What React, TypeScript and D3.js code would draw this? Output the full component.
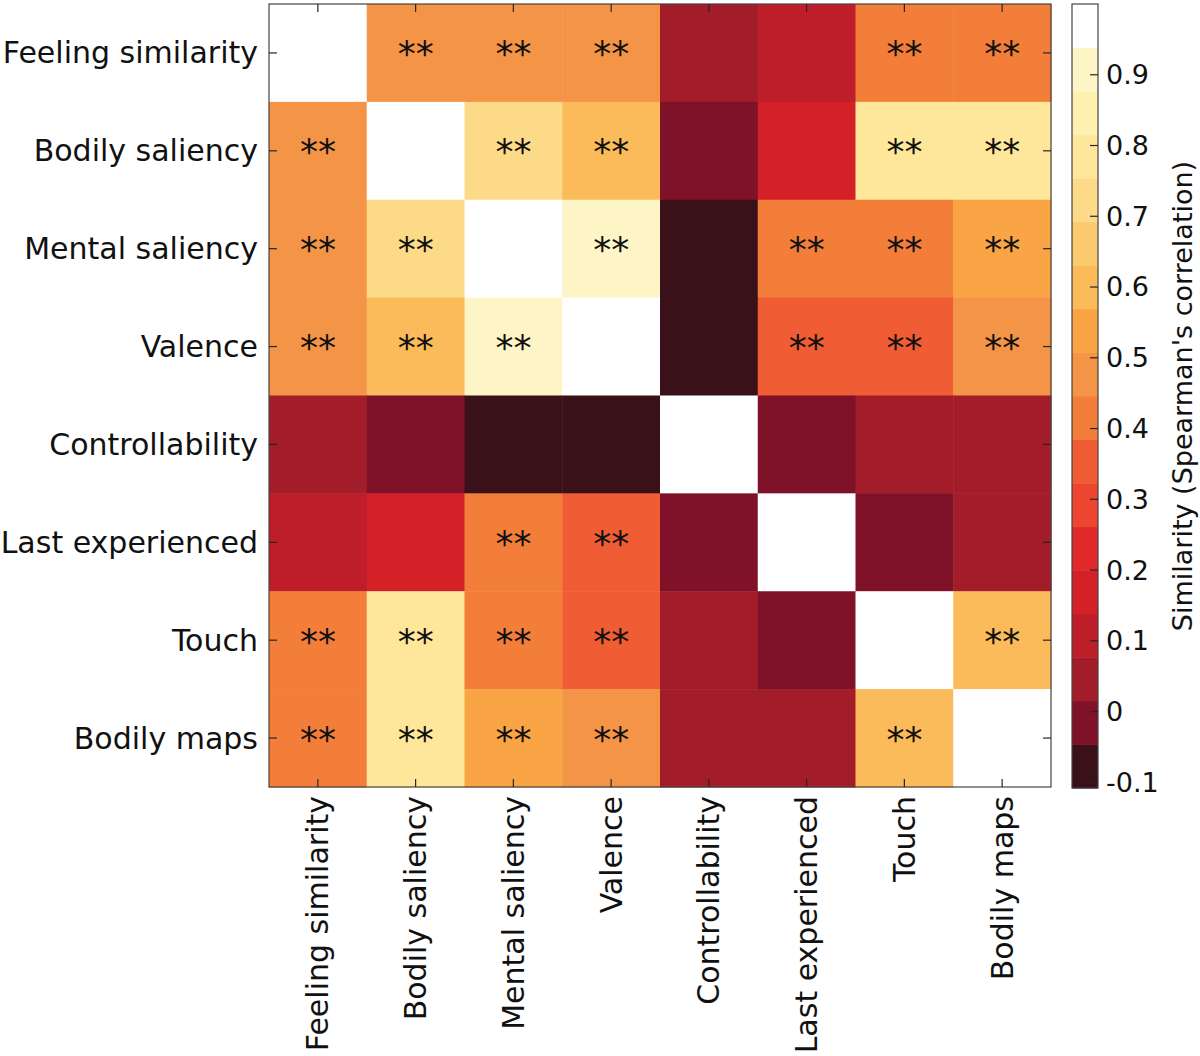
import React from "react";
import * as d3 from "d3";

const categories = [
  "Feeling similarity",
  "Bodily saliency",
  "Mental saliency",
  "Valence",
  "Controllability",
  "Last experienced",
  "Touch",
  "Bodily maps",
];

const rowFeeling = [1, 0.48, 0.48, 0.48, 0.05, 0.11, 0.42, 0.42];
const rowBodily = [0.48, 1, 0.72, 0.6, -0.02, 0.17, 0.79, 0.79];
const rowMental = [0.48, 0.72, 1, 0.91, -0.09, 0.42, 0.42, 0.54];
const rowValence = [0.48, 0.6, 0.91, 1, -0.09, 0.35, 0.35, 0.48];
const rowControl = [0.05, -0.02, -0.09, -0.09, 1, -0.02, 0.05, 0.05];
const rowLast = [0.11, 0.17, 0.42, 0.35, -0.02, 1, -0.02, 0.05];
const rowTouch = [0.42, 0.79, 0.42, 0.35, 0.05, -0.02, 1, 0.6];
const rowMaps = [0.42, 0.79, 0.54, 0.48, 0.05, 0.05, 0.6, 1];
const values = [rowFeeling, rowBodily, rowMental, rowValence, rowControl, rowLast, rowTouch, rowMaps];

const sigFeeling = [0, 1, 1, 1, 0, 0, 1, 1];
const sigBodily = [1, 0, 1, 1, 0, 0, 1, 1];
const sigMental = [1, 1, 0, 1, 0, 1, 1, 1];
const sigValence = [1, 1, 1, 0, 0, 1, 1, 1];
const sigControl = [0, 0, 0, 0, 0, 0, 0, 0];
const sigLast = [0, 0, 1, 1, 0, 0, 0, 0];
const sigTouch = [1, 1, 1, 1, 0, 0, 0, 1];
const sigMaps = [1, 1, 1, 1, 0, 0, 1, 0];
const significance = [sigFeeling, sigBodily, sigMental, sigValence, sigControl, sigLast, sigTouch, sigMaps];

const colorDomain = [-0.108, 1];
const palette = [
  "#3A1019", "#7F1128", "#A21C2A", "#BE1E2A", "#D42027", "#E02A2A",
  "#EC4630", "#F05C34", "#F27E3A", "#F49447", "#F9A545", "#FBBB5A",
  "#FCCA6E", "#FDDA88", "#FEE79A", "#FEF0AE", "#FEF5C6", "#FFFFFF",
];
const colorTicks = [-0.1, 0, 0.1, 0.2, 0.3, 0.4, 0.5, 0.6, 0.7, 0.8, 0.9];
const colorbarTitle = "Similarity (Spearman's correlation)";

const FONT = "DejaVu Sans, Verdana, sans-serif";

export default function App() {
  const left = 269, right = 1051, top = 4, bottom = 787;
  const x = d3.scaleBand<string>().domain(categories).range([left, right]);
  const y = d3.scaleBand<string>().domain(categories).range([top, bottom]);
  const color = d3.scaleQuantize<string>().domain(colorDomain as [number, number]).range(palette);

  const cbX0 = 1072, cbX1 = 1098, cbTop = 4, cbBottom = 788;
  const cbScale = d3.scaleLinear().domain(colorDomain).range([cbBottom, cbTop]);
  const thresholds = [colorDomain[0], ...color.thresholds(), colorDomain[1]];

  const tickLen = 8;
  const tickColor = "#262626";

  return (
    <svg width={1200} height={1056} style={{ position: "absolute", left: 0, top: 0, background: "#fff" }} fontFamily={FONT}>
      {values.map((row, i) =>
        row.map((v, j) => (
          <rect
            key={`c${i}-${j}`}
            x={x(categories[j])}
            y={y(categories[i])}
            width={x.bandwidth() + 0.5}
            height={y.bandwidth() + 0.5}
            fill={color(v)}
          />
        ))
      )}
      {significance.map((row, i) =>
        row.map((s, j) =>
          s ? (
            <text
              key={`s${i}-${j}`}
              x={(x(categories[j]) as number) + x.bandwidth() / 2}
              y={(y(categories[i]) as number) + y.bandwidth() / 2 + 13.5}
              fontSize={36}
              textAnchor="middle"
              fill="#111"
            >
              **
            </text>
          ) : null
        )
      )}
      <rect x={left} y={top} width={right - left} height={bottom - top} fill="none" stroke="#444" strokeWidth={1.2} />
      {categories.map((c) => {
        const cx = (x(c) as number) + x.bandwidth() / 2;
        const cy = (y(c) as number) + y.bandwidth() / 2;
        return (
          <g key={`t-${c}`} stroke={tickColor} strokeWidth={1.2}>
            <line x1={cx} x2={cx} y1={top} y2={top + tickLen} />
            <line x1={cx} x2={cx} y1={bottom} y2={bottom - tickLen} />
            <line x1={left} x2={left + tickLen} y1={cy} y2={cy} />
            <line x1={right} x2={right - tickLen} y1={cy} y2={cy} />
          </g>
        );
      })}
      {categories.map((c) => (
        <text
          key={`yl-${c}`}
          x={258}
          y={(y(c) as number) + y.bandwidth() / 2}
          dy="0.35em"
          textAnchor="end"
          fontSize={30}
          fill="#111"
        >
          {c}
        </text>
      ))}
      {categories.map((c) => {
        const cx = (x(c) as number) + x.bandwidth() / 2;
        return (
          <text
            key={`xl-${c}`}
            transform={`translate(${cx},${796}) rotate(-90)`}
            dy="0.35em"
            textAnchor="end"
            fontSize={30}
            fill="#111"
          >
            {c}
          </text>
        );
      })}
      {palette.map((p, k) => (
        <rect
          key={`cb${k}`}
          x={cbX0}
          y={cbScale(thresholds[k + 1])}
          width={cbX1 - cbX0}
          height={cbScale(thresholds[k]) - cbScale(thresholds[k + 1]) + 0.5}
          fill={p}
        />
      ))}
      <rect x={cbX0} y={cbTop} width={cbX1 - cbX0} height={cbBottom - cbTop} fill="none" stroke="#444" strokeWidth={1.2} />
      {colorTicks.map((t) => (
        <g key={`ct${t}`}>
          <line x1={cbX1 - tickLen} x2={cbX1} y1={cbScale(t)} y2={cbScale(t)} stroke={tickColor} strokeWidth={1.2} />
          <text x={1106} y={cbScale(t)} dy="0.35em" fontSize={27} fill="#111">
            {String(t)}
          </text>
        </g>
      ))}
      <text
        transform={`translate(${1183},${(cbTop + cbBottom) / 2}) rotate(-90)`}
        dy="0.35em"
        textAnchor="middle"
        fontSize={27}
        fill="#111"
      >
        {colorbarTitle}
      </text>
    </svg>
  );
}
